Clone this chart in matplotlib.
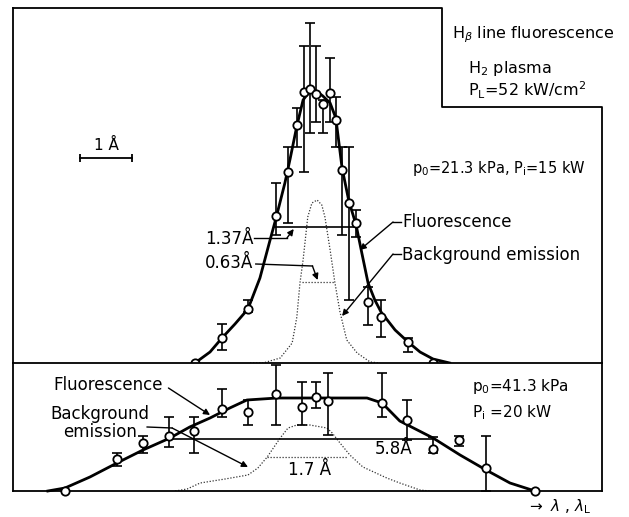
import numpy as np
import matplotlib
matplotlib.use("Agg")
import matplotlib.pyplot as plt

# ---------------- data (x in Angstrom relative to line centre, intensity in a.u.) -------------
# Upper panel: p0 = 21.3 kPa, Pi = 15 kW
top_x = [-2.27, -1.75, -1.25, -0.71, -0.48, -0.31, -0.17, -0.06, 0.06, 0.19,
         0.33, 0.44, 0.56, 0.69, 0.83, 1.06, 1.31, 1.83, 2.31]
top_y = [0, 25, 54, 147, 191, 238, 271, 274, 269, 259,
         270, 243, 193, 160, 140, 61, 46, 21, 0]
top_lo = [np.nan, 13, 51, 128, 140, 216, 191, 230, 241, 230,
          241, 216, 128, 63, 126, 38, 26, 11, np.nan]
top_hi = [np.nan, 39, 63, 180, 216, 255, 317, 340, 317, 263,
          305, 266, 216, 216, 153, 76, 63, 25, np.nan]

top_fit_x = [-2.27, -1.98, -1.75, -1.50, -1.25, -1.02, -0.83, -0.71, -0.54, -0.44,
             -0.31, -0.19, -0.06, 0.06, 0.19, 0.33, 0.44, 0.56, 0.69, 0.83,
             0.94, 1.06, 1.19, 1.31, 1.58, 1.83, 2.06, 2.31, 2.63]
top_fit_y = [0, 11, 25, 39, 54, 85, 122, 145, 180, 204,
             237, 263, 272, 272, 267, 260, 245, 195, 162, 138,
             110, 80, 63, 51, 33, 21, 11, 4, 0]

top_bg_x = [-1.21, -0.96, -0.63, -0.40, -0.31, -0.25, -0.19, -0.10, -0.02, 0.08,
            0.17, 0.23, 0.33, 0.42, 0.52, 0.65, 0.85, 1.10, 1.29]
top_bg_y = [0, 0, 5, 20, 46, 80, 103, 146, 160, 163,
            158, 146, 113, 81, 51, 23, 10, 1, 0]

top_fwhm_fl = ([-0.73, 0.85], 136)   # 1.37 A
top_fwhm_bg = ([-0.21, 0.42], 81)    # 0.63 A

# Lower panel: p0 = 41.3 kPa, Pi = 20 kW
bot_x = [-4.77, -3.77, -3.27, -2.77, -2.29, -1.75, -1.25, -0.71, -0.21, 0.06,
         0.29, 1.33, 1.81, 2.31, 2.81, 3.33, 4.27]
bot_y = [0, 32, 48, 55, 60, 82, 79, 97, 84, 94, 90, 88, 71, 42, 51, 23, 0]
bot_lo = [np.nan, 25, 38, 44, 38, 74, 66, 66, 66, 83, 56, 74, 51, 38, 45, 0, np.nan]
bot_hi = [np.nan, 38, 55, 74, 74, 102, 91, 126, 109, 109, 118, 118, 91, 54, 55, 55, np.nan]

bot_fit_x = [-5.10, -4.77, -4.29, -3.77, -3.27, -2.75, -2.37, -1.98, -1.60, -1.27,
             -0.69, 0.27, 1.04, 1.33, 1.67, 2.31, 2.83, 3.33, 3.79, 4.27]
bot_fit_y = [0, 3, 14, 28, 41, 53, 64, 73, 83, 91,
             93, 93, 93, 88, 70, 53, 36, 21, 8, 0]

bot_bg_x = [-2.65, -2.42, -2.17, -1.69, -1.25, -1.06, -0.88, -0.63, -0.48, -0.31,
            -0.06, 0.27, 0.37, 0.52, 0.71, 0.96, 1.42, 1.67, 2.06, 2.25]
bot_bg_y = [0, 2, 8, 12, 16, 23, 34, 53, 63, 66,
            66, 63, 58, 48, 36, 24, 13, 8, 1, 0]

bot_fwhm_fl = ([-2.79, 2.31], 52)    # 5.8 A
bot_fwhm_bg = ([-0.88, 0.67], 34)    # 1.7 A

XLIM = (-5.77, 5.56)

# ---------------- figure ----------------
W, H = 629, 517
fig = plt.figure(figsize=(W / 100, H / 100), dpi=100)
plt.rcParams['font.family'] = ['DejaVu Sans']
plt.rcParams['mathtext.fontset'] = 'dejavusans'

def fx(px):
    return px / W

def fy(py):
    return 1 - py / H

left, right = 13, 602
ax_top = fig.add_axes([fx(left), fy(363), (right - left) / W, (363 - 8) / H])
ax_bot = fig.add_axes([fx(left), fy(491), (right - left) / W, (491 - 363) / H])

for ax in (ax_top, ax_bot):
    ax.set_xlim(*XLIM)
    ax.set_xticks([])
    ax.set_yticks([])
    for s in ax.spines.values():
        s.set_linewidth(1.3)
ax_top.set_ylim(0, 355)
ax_bot.set_ylim(0, 128)

# notched frame of the upper panel
ax_top.spines['top'].set_visible(False)
ax_top.spines['right'].set_visible(False)
ax_top.spines['bottom'].set_visible(False)
nx = (442 - left) / (right - left)
ny = (363 - 107) / 355
ax_top.plot([0, nx, nx, 1, 1], [1, 1, ny, ny, 0], color='black', lw=1.3,
            transform=ax_top.transAxes, clip_on=False)

mk = dict(marker='o', ms=6, mfc='white', mec='black', mew=1.3, ls='none',
          clip_on=False, zorder=5)
eb = dict(fmt='none', ecolor='black', elinewidth=1.2, capsize=3.5, capthick=1.2,
          zorder=3)
dot = dict(color='#333333', lw=0.9, ls=(0, (1, 1.4)))


def draw_panel(ax, x, y, lo, hi, fx_, fy_, bx, by, fw_fl, fw_bg):
    x = np.asarray(x, float)
    y = np.asarray(y, float)
    lo = np.asarray(lo, float)
    hi = np.asarray(hi, float)
    m = ~np.isnan(lo)
    ax.errorbar(x[m], y[m], yerr=[y[m] - lo[m], hi[m] - y[m]], **eb)
    ax.plot(fx_, fy_, color='black', lw=2.0, zorder=4, clip_on=False)
    ax.plot(bx, by, **dot, zorder=2)
    ax.plot(fw_fl[0], [fw_fl[1]] * 2, color='black', lw=1.2, zorder=2)
    ax.plot(fw_bg[0], [fw_bg[1]] * 2, **dot)
    ax.plot(x, y, **mk)


draw_panel(ax_top, top_x, top_y, top_lo, top_hi, top_fit_x, top_fit_y,
           top_bg_x, top_bg_y, top_fwhm_fl, top_fwhm_bg)
draw_panel(ax_bot, bot_x, bot_y, bot_lo, bot_hi, bot_fit_x, bot_fit_y,
           bot_bg_x, bot_bg_y, bot_fwhm_fl, bot_fwhm_bg)

FS = 12
arrow = dict(arrowstyle='-|>', color='black', lw=1.0, mutation_scale=9,
             shrinkA=0, shrinkB=0)


def leader(ax, pts):
    xs, ys = zip(*pts)
    ax.plot(xs[:-1], ys[:-1], color='black', lw=1.0)
    ax.annotate('', xy=pts[-1], xytext=pts[-2], arrowprops=arrow)


# ---- upper panel annotations ----
ax_top.text(-1.15, 124, '1.37Å', fontsize=FS, ha='right', va='center')
leader(ax_top, [(-1.13, 125), (-0.50, 125), (-0.37, 134)])
ax_top.text(-1.15, 100, '0.63Å', fontsize=FS, ha='right', va='center')
leader(ax_top, [(-1.10, 99), (-0.01, 97), (0.09, 83)])

ax_top.text(1.72, 141, 'Fluorescence', fontsize=FS, ha='left', va='center')
leader(ax_top, [(1.70, 141), (1.54, 141), (0.90, 113)])
ax_top.text(1.72, 108, 'Background emission', fontsize=FS, ha='left', va='center')
leader(ax_top, [(1.70, 109), (1.54, 109), (0.56, 47)])

ax_top.text(1.90, 195, r'p$_0$=21.3 kPa, P$_\mathrm{i}$=15 kW', fontsize=10.5,
            ha='left', va='center')

# 1 A scale bar
ax_top.plot([-4.48, -3.48], [205, 205], color='black', lw=1.3)
ax_top.plot([-4.48, -3.48], [205, 205], ls='none', marker='|', ms=6,
            mew=1.3, color='black')
ax_top.text(-3.98, 218, '1 Å', fontsize=11, ha='center', va='center')

# legend box texts
fig.text(fx(452), fy(35), r'H$_\beta$ line fluorescence', fontsize=11.5,
         ha='left', va='center')
fig.text(fx(468), fy(68), r'H$_2$ plasma', fontsize=11.5, ha='left', va='center')
fig.text(fx(468), fy(90), r'P$_\mathrm{L}$=52 kW/cm$^2$', fontsize=11.5,
         ha='left', va='center')

# ---- lower panel annotations ----
ax_bot.text(-5.0, 106, 'Fluorescence', fontsize=FS, ha='left', va='center')
leader(ax_bot, [(-2.78, 103), (-1.98, 76)])
ax_bot.text(-4.10, 77, 'Background', fontsize=FS, ha='center', va='center')
ax_bot.text(-4.10, 59, 'emission', fontsize=FS, ha='center', va='center')
leader(ax_bot, [(-3.19, 64), (-2.71, 63), (-1.25, 24)])

ax_bot.text(1.92, 42, '5.8Å', fontsize=FS, ha='right', va='center')
ax_bot.text(-0.06, 21, '1.7 Å', fontsize=FS, ha='center', va='center')
ax_bot.text(3.06, 104, r'p$_0$=41.3 kPa', fontsize=11, ha='left', va='center')
ax_bot.text(3.06, 78, r'P$_\mathrm{i}$ =20 kW', fontsize=11, ha='left', va='center')

fig.text(fx(527), fy(507), r'$\rightarrow$ $\lambda$ , $\lambda_\mathrm{L}$',
         fontsize=11, ha='left', va='center')

fig.savefig('out.png', dpi=100, facecolor='white')
